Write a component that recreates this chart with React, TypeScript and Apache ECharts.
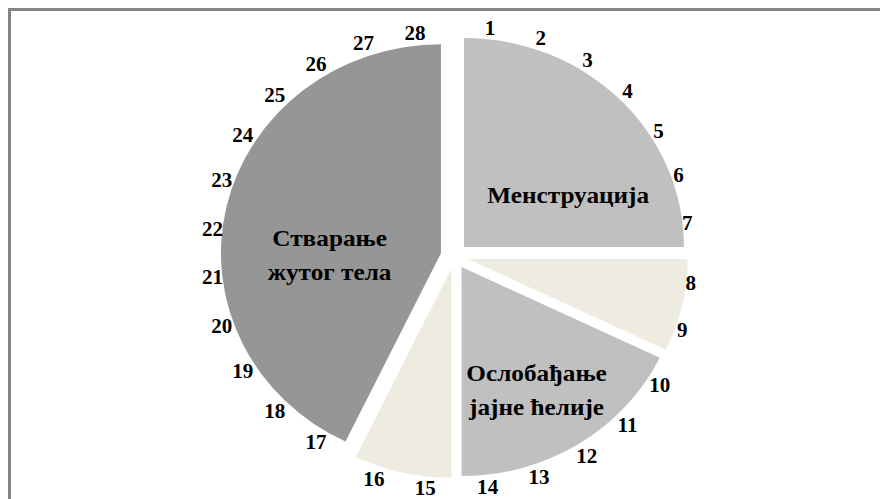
import React, { useEffect, useRef } from 'react';
import * as echarts from 'echarts';

// Phases of the cycle (days per phase)
const phaseNames = ['Менструација', '', 'Ослобађање\nјајне ћелије', '', 'Стварање\nжутог тела'];
const phaseDays = [7, 2, 5, 2, 12];
const phaseColors = ['#C0C0C0', '#EEECE1', '#C0C0C0', '#EEECE1', '#969696'];

// Day ring labels
const dayLabels = [
  '1', '2', '3', '4', '5', '6', '7', '8', '9', '10', '11', '12', '13', '14',
  '15', '16', '17', '18', '19', '20', '21', '22', '23', '24', '25', '26', '27', '28',
];
const dayValues = [1, 1, 1, 1, 1, 1, 1, 1, 1, 1, 1, 1, 1, 1, 1, 1, 1, 1, 1, 1, 1, 1, 1, 1, 1, 1, 1, 1];

// layout
const SX = 1.0526; // horizontal stretch of the pie
const W = 880;
const H = 491;
const CX = 446.3 / SX;
const CY = 248.1;
const R = 209;
const EXPLODE = 13;
const LABEL_GAP = -2;
const labelShift: number[][] = [[23, 24], [0, 0], [14, 32], [0, 0], [-1, 25]];
const FONT = "'Liberation Serif', 'Times New Roman', serif";

export default function App() {
  const pieRef = useRef<HTMLDivElement>(null);

  useEffect(() => {
    document.documentElement.style.overflow = 'hidden';
    document.body.style.overflow = 'hidden';
    const chart = echarts.init(pieRef.current!, null, { renderer: 'svg' });

    const total = phaseDays.reduce((a, b) => a + b, 0);
    let acc = 0;
    const daySeries = phaseDays.map((n) => {
      const start = acc;
      acc += n;
      const mid = ((start + n / 2) / total) * Math.PI * 2;
      const pc = [CX + EXPLODE * Math.sin(mid), CY - EXPLODE * Math.cos(mid)];
      return {
        type: 'pie',
        center: pc,
        radius: [R - 10, R + 10],
        startAngle: 90,
        clockwise: true,
        silent: true,
        z: 3,
        emphasis: { disabled: true },
        itemStyle: { color: 'rgba(0,0,0,0)', borderWidth: 0 },
        label: {
          show: true,
          position: 'inside',
          formatter: '{b}',
          color: '#000',
          fontFamily: FONT,
          fontWeight: 'bold',
          fontSize: 20,
        },
        labelLine: { show: false },
        // "outside end" placement: label box just touches the slice's rim
        labelLayout: (prm: any) => {
          const r = prm.labelRect;
          const x = r.x + r.width / 2;
          const y = r.y + r.height / 2;
          const vx = x - pc[0];
          const vy = y - pc[1];
          const d = Math.hypot(vx, vy) || 1;
          const sn = vx / d;
          const cs = -vy / d;
          const target = R + LABEL_GAP + (r.width / 2) * Math.abs(sn) + r.height * 0.65 * Math.abs(cs);
          const delta = target - d;
          return { dx: delta * sn, dy: -delta * cs };
        },
        data: dayValues.map((v, i) => ({
          value: v,
          name: dayLabels[i],
          label: { show: i >= start && i < start + n },
        })),
      };
    });

    chart.setOption({
      animation: false,
      series: [
        {
          type: 'pie',
          center: [CX, CY],
          radius: [0, R],
          startAngle: 90,
          clockwise: true,
          selectedMode: 'multiple',
          selectedOffset: EXPLODE,
          silent: true,
          z: 2,
          emphasis: { disabled: true },
          label: {
            show: true,
            position: 'inside',
            formatter: '{b}',
            color: '#000',
            fontFamily: FONT,
            fontWeight: 'bold',
            fontSize: 24,
            lineHeight: 34,
            align: 'center',
          },
          labelLine: { show: false },
          labelLayout: (p: any) => ({
            dx: labelShift[p.dataIndex][0],
            dy: labelShift[p.dataIndex][1],
          }),
          itemStyle: { borderWidth: 0 },
          data: phaseDays.map((v, i) => ({
            value: v,
            name: phaseNames[i],
            selected: true,
            itemStyle: { color: phaseColors[i] },
            label: { show: phaseNames[i] !== '' },
          })),
        },
        ...daySeries,
      ],
    });

    return () => {
      chart.dispose();
    };
  }, []);

  return (
    <div style={{ position: 'relative', width: W, height: H, overflow: 'hidden', background: '#fff' }}>
      <div
        style={{
          position: 'absolute',
          left: 0,
          top: 0,
          width: W + 40,
          height: H + 40,
          borderLeft: '3px solid #848484',
          borderTop: '3px solid #848484',
          boxSizing: 'border-box',
        }}
      />
      <div
        ref={pieRef}
        style={{
          position: 'absolute',
          left: 0,
          top: 0,
          width: W / SX,
          height: H,
          transform: `scaleX(${SX})`,
          transformOrigin: '0 0',
        }}
      />
    </div>
  );
}
